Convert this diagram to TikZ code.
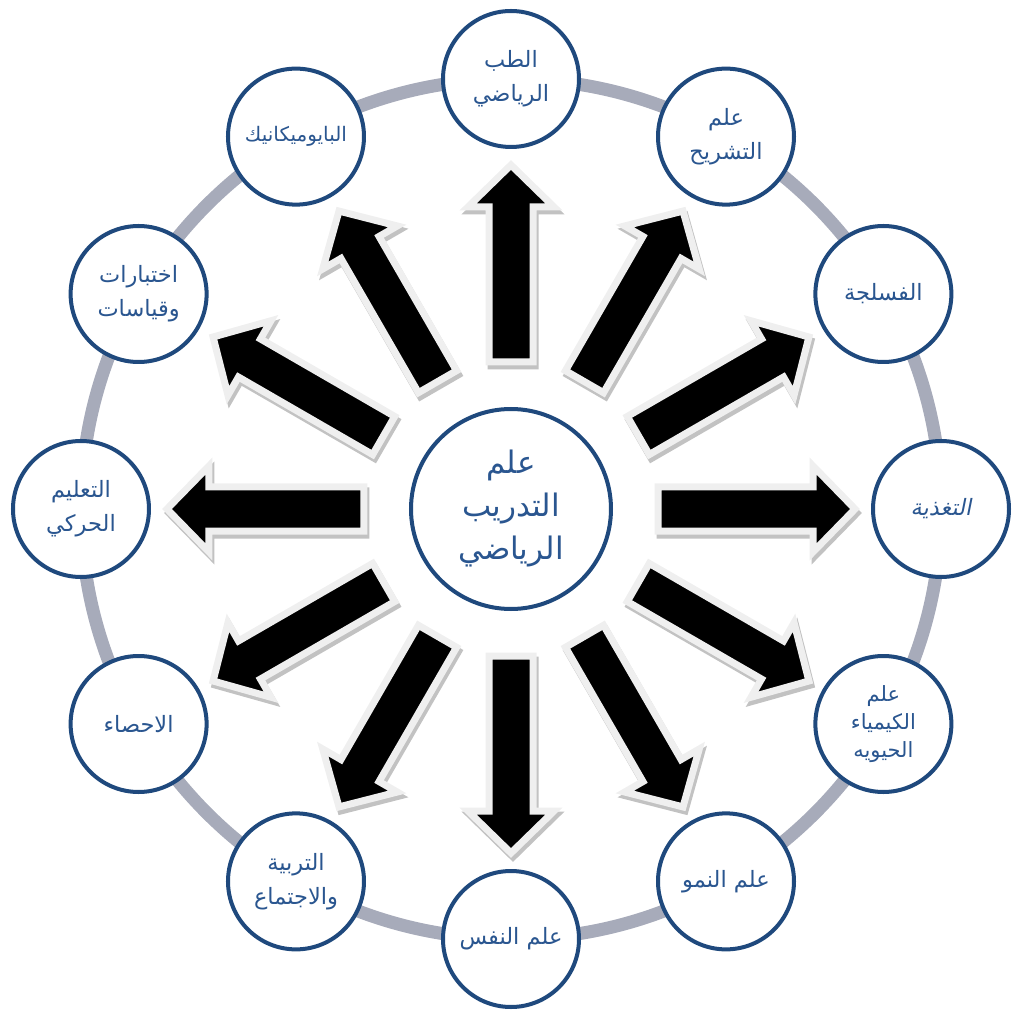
\documentclass[tikz,border=0pt]{standalone}
\usepackage{fontspec}
\TeXXeTstate=1
\newfontfamily\arabicfont[Script=Arabic]{DejaVu Sans}
\newfontfamily\arabicslant[Script=Arabic,FakeSlant=0.2]{DejaVu Sans}
\newcommand\ar[1]{\beginR #1\endR}
\definecolor{ringgray}{HTML}{A7ABBA}
\definecolor{rimblue}{HTML}{1F497D}
\definecolor{txtblue}{HTML}{2A5690}
\definecolor{arrowrim}{HTML}{EFEFEF}
\definecolor{arrowshadow}{HTML}{C2C2C2}
\tikzset{
  outer/.style={circle, draw=rimblue, line width=4, fill=white, minimum size=136,
    inner sep=0, text=txtblue, align=center,
    font=\arabicfont\fontsize{22.5}{34}\selectfont},
  centre/.style={circle, draw=rimblue, line width=4, fill=white, minimum size=200,
    inner sep=0, text=txtblue, align=center,
    font=\arabicfont\fontsize{31}{43}\selectfont},
  ring/.style={draw=ringgray, line width=13},
  arrowbody/.style={fill=black, draw=arrowrim, line width=7, line join=miter},
  arrowshade/.style={fill=arrowshadow, draw=arrowshadow, line width=7, line join=miter}
}
\begin{document}
\begin{tikzpicture}[x=1pt,y=1pt]
\useasboundingbox (-511,-508) rectangle (501,509);
\coordinate (o) at (0,0);
\draw[ring] (o) circle (430);
% arrows
\foreach \a in {90,60,30,0,-30,-60,-90,-120,-150,180,150,120}{
  \begin{scope}[shift={(2,-4)},rotate=\a]
    \path[arrowshade] (147,22) -- (302,22) -- (302,43) -- (344,0) -- (302,-43) -- (302,-22) -- (147,-22) -- cycle;
  \end{scope}
}
\foreach \a in {90,60,30,0,-30,-60,-90,-120,-150,180,150,120}{
  \begin{scope}[rotate=\a]
    \path[arrowbody] (147,22) -- (302,22) -- (302,43) -- (344,0) -- (302,-43) -- (302,-22) -- (147,-22) -- cycle;
  \end{scope}
}
\node[centre] (c) at (o) {\ar{علم}\\\ar{التدريب}\\\ar{الرياضي}};
\node[outer] (n1) at (90:430) {\ar{الطب}\\\ar{الرياضي}};
\node[outer] (n2) at (60:430) {\ar{علم}\\\ar{التشريح}};
\node[outer] (n3) at (30:430) {\ar{الفسلجة}};
\node[outer, font=\arabicslant\fontsize{22.5}{34}\selectfont] (n4) at (0:430) {\ar{التغذية}};
\node[outer, font=\arabicfont\fontsize{21}{28}\selectfont] (n5) at (-30:430) {\ar{علم}\\\ar{الكيمياء}\\\ar{الحيويه}};
\node[outer] (n6) at (-60:430) {\ar{علم النمو}};
\node[outer] (n7) at (-90:430) {\ar{علم النفس}};
\node[outer] (n8) at (-120:430) {\ar{التربية}\\\ar{والاجتماع}};
\node[outer] (n9) at (-150:430) {\ar{الاحصاء}};
\node[outer] (n10) at (180:430) {\ar{التعليم}\\\ar{الحركي}};
\node[outer] (n11) at (150:430) {\ar{اختبارات}\\\ar{وقياسات}};
\node[outer, font=\arabicfont\fontsize{20}{34}\selectfont] (n12) at (120:430) {\ar{البايوميكانيك}};
\end{tikzpicture}
\end{document}
